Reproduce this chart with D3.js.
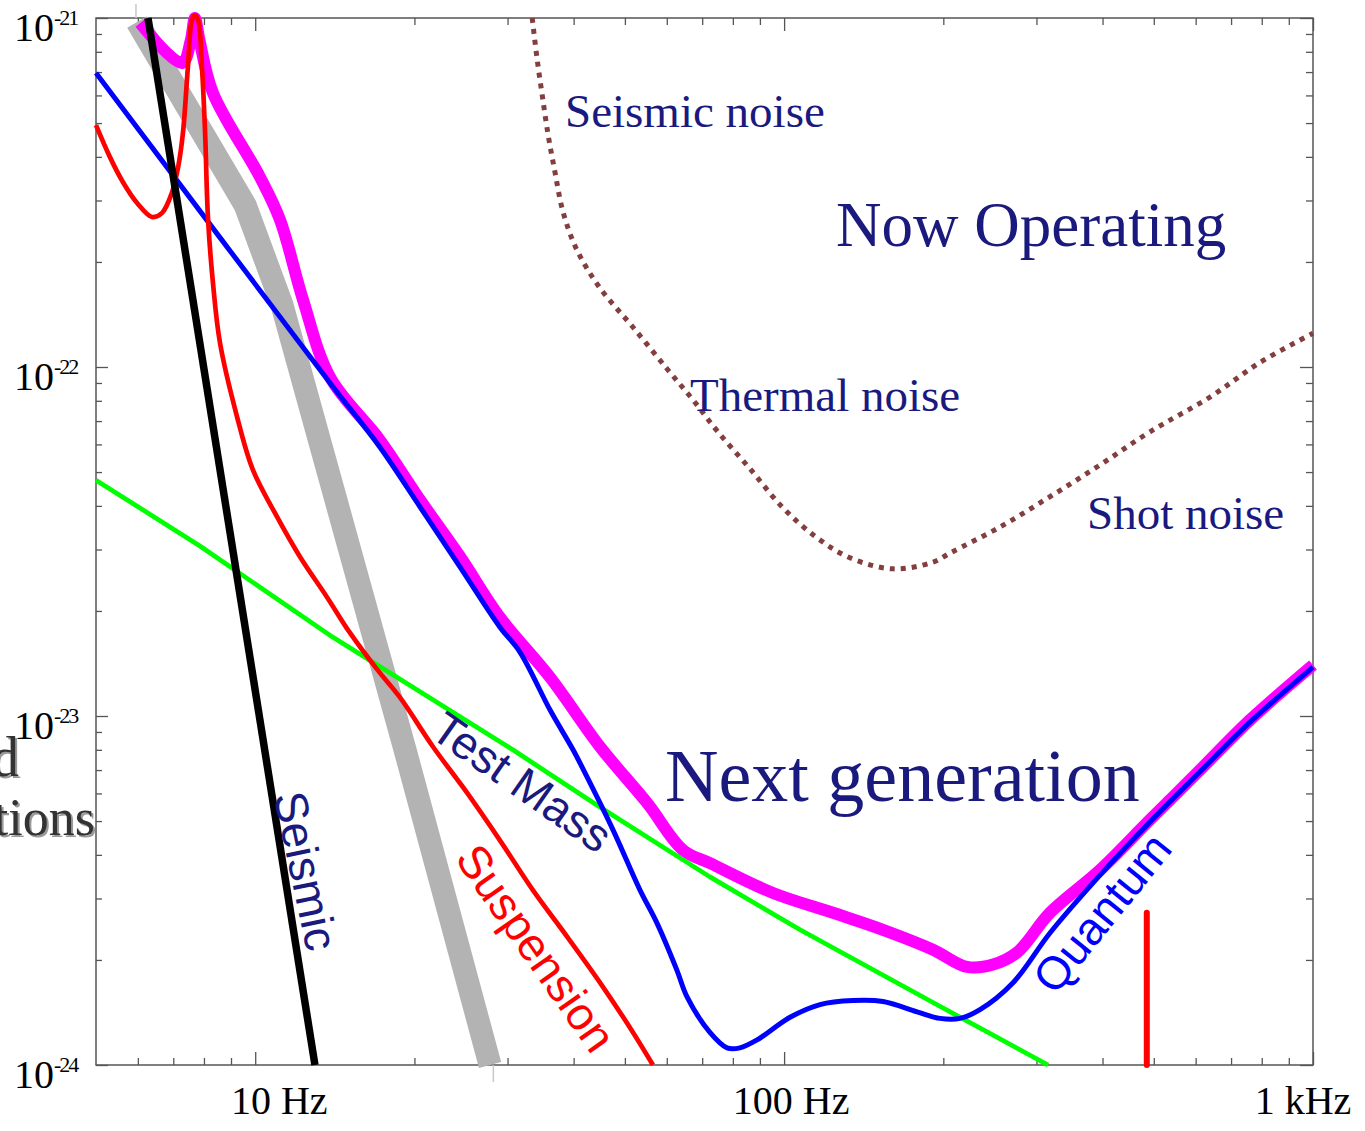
<!DOCTYPE html>
<html lang="en">
<head>
<meta charset="UTF-8">
<title>Interferometer noise curves</title>
<style>
  body { margin: 0; background: #fff; }
  svg { display: block; }
</style>
</head>
<body>
<svg id="chart" width="1365" height="1131"></svg>
<script src="https://d3js.org/d3.v7.min.js"></script>
<script>

// ---- data : [frequency (Hz), strain (1/sqrt(Hz))] ----
var seismicNoise = [[6.27, 1.0e-21], [12.97, 1.0e-24]];

var seismicBand = [[5.98, 9.74e-22], [9.57, 2.91e-22], [11.23, 1.51e-22],
                   [19.2, 8.0e-24], [27.8, 1.0e-24]];
var seismicBandTicks = [5.95, 28.2];

var totalNoise = [[6.06, 9.67e-22], [7.27, 7.43e-22], [7.55, 8.6e-22], [7.69, 1.0e-21],
  [7.85, 8.6e-22], [8.32, 6.1e-22], [10.21, 3.5e-22], [11.14, 2.64e-22], [12.31, 1.56e-22],
  [13.85, 9.35e-23], [17.2, 6.18e-23], [20.5, 4.16e-23], [24.4, 2.86e-23], [29.0, 1.92e-23],
  [36.1, 1.29e-23], [44.9, 8.15e-24], [55.1, 5.63e-24], [64.4, 4.13e-24], [72.4, 3.79e-24],
  [95.3, 3.11e-24], [123.7, 2.73e-24], [153.8, 2.44e-24], [191.2, 2.14e-24], [221.7, 1.91e-24],
  [248.3, 1.94e-24], [275.6, 2.10e-24], [318.2, 2.73e-24], [395.7, 3.62e-24], [491.7, 5.04e-24],
  [611.3, 7.0e-24], [760, 9.74e-24], [1000, 1.40e-23]];

var quantumNoise = [[5.0, 6.96e-22], [13.85, 9.0e-23], [17.2, 5.9e-23], [20.5, 3.97e-23],
  [24.4, 2.67e-23], [29.0, 1.80e-23], [31.7, 1.52e-23], [36.1, 1.04e-23], [39.9, 8.0e-24],
  [42.4, 6.69e-24], [47.5, 4.71e-24], [53.4, 3.17e-24], [57.5, 2.55e-24], [62.7, 1.87e-24],
  [65.5, 1.57e-24], [72.4, 1.24e-24], [78.0, 1.12e-24], [82.5, 1.12e-24], [88.9, 1.18e-24],
  [102.6, 1.37e-24], [116.9, 1.49e-24], [135.0, 1.53e-24], [153.8, 1.52e-24], [178.4, 1.42e-24],
  [197.2, 1.36e-24], [215.1, 1.36e-24], [234.6, 1.44e-24], [270.9, 1.72e-24], [318.2, 2.39e-24],
  [395.7, 3.50e-24], [491.7, 4.97e-24], [611.3, 6.92e-24], [760, 9.6e-24], [1000, 1.38e-23]];

var suspensionNoise = [[5.0, 4.93e-22], [5.31, 4.0e-22], [5.62, 3.39e-22], [5.98, 2.95e-22],
  [6.38, 2.69e-22], [6.66, 2.76e-22], [6.96, 3.16e-22], [7.15, 3.74e-22], [7.30, 4.68e-22],
  [7.46, 7.24e-22], [7.59, 9.87e-22], [7.69, 1.02e-21], [7.80, 9.87e-22], [7.93, 7.24e-22],
  [8.04, 4.68e-22], [8.14, 2.69e-22], [8.32, 1.74e-22], [8.58, 1.17e-22], [9.24, 7.2e-23],
  [9.90, 5.07e-23], [11.0, 3.72e-23], [12.15, 2.86e-23], [13.67, 2.19e-23], [15.11, 1.73e-23],
  [17.0, 1.36e-23], [18.78, 1.13e-23], [21.7, 8.15e-24], [25.2, 6.0e-24], [29.0, 4.41e-24],
  [33.5, 3.17e-24], [38.9, 2.33e-24], [44.9, 1.72e-24], [51.8, 1.24e-24], [56.5, 1.0e-24]];

var violinMode = [[485, 2.73e-24], [485, 1.0e-24]];

var testMassNoise = [[5.0, 4.74e-23], [7.86, 3.07e-23], [14.03, 1.68e-23], [30.7, 8.0e-24],
  [44.9, 5.48e-24], [72.4, 3.46e-24], [107.2, 2.44e-24], [191.2, 1.51e-24], [315.5, 1.0e-24]];

var currentDetector = [[33.4, 1.0e-21], [34.1, 7.68e-22], [34.9, 5.98e-22], [35.8, 4.62e-22],
  [36.9, 3.60e-22], [38.2, 2.78e-22], [40.6, 2.16e-22], [44.9, 1.68e-22], [51.8, 1.30e-22],
  [60.1, 9.87e-23], [67.3, 8.04e-23], [74.7, 6.56e-23], [86.2, 5.11e-23], [99.5, 3.95e-23],
  [115.4, 3.24e-23], [133.2, 2.84e-23], [160.7, 2.64e-23], [191.2, 2.76e-23], [205.9, 2.93e-23],
  [256, 3.48e-23], [318.2, 4.25e-23], [395.7, 5.24e-23], [491.7, 6.52e-23], [638.6, 8.2e-23],
  [793.8, 1.03e-22], [1000, 1.25e-22]];

var xMajor = [10, 100, 1000];
var xMinor = [6, 7, 8, 9, 20, 30, 40, 50, 60, 70, 80, 90, 200, 300, 400, 500, 600, 700, 800, 900];
var xLabels = ["10 Hz", "100 Hz", "1 kHz"];
var xLabelShift = [24, 7, -10];
var yMajor = [1e-24, 1e-23, 1e-22, 1e-21];
var yExponents = ["-24", "-23", "-22", "-21"];
var yMinor = [];
[1e-24, 1e-23, 1e-22].forEach(function (d) {
	for (var k = 2; k <= 9; k++) yMinor.push(k * d);
});

// ---- setup ----
var serif = "'Liberation Serif', 'Times New Roman', serif";
var sans = "'Liberation Sans', Arial, sans-serif";
var navy = "#1a1a7e";
var axisColor = "#555";

var svg = d3.select("#chart");
var plotL = 96, plotR = 1313, plotT = 18, plotB = 1065;

var x = d3.scaleLog().domain([5, 1000]).range([plotL, plotR]);
var y = d3.scaleLog().domain([1e-24, 1e-21]).range([plotB, plotT]);

svg.append("rect").attr("width", 1365).attr("height", 1131).attr("fill", "#fff");

// cut-off label at far left
function shadowText(txt, tx, ty, size) {
	svg.append("text").attr("x", tx + 2).attr("y", ty + 2).attr("text-anchor", "end")
		.attr("font-family", serif).attr("font-size", size).attr("fill", "#9a9a9a").text(txt);
	svg.append("text").attr("x", tx).attr("y", ty).attr("text-anchor", "end")
		.attr("font-family", serif).attr("font-size", size).attr("fill", "#333").text(txt);
}
shadowText("d", 19, 776, 56);
shadowText("tions", 95, 835, 52);

// ---- axes ----
function styleAxis(g) {
	g.select(".domain").remove();
	g.selectAll("line").attr("stroke", axisColor).attr("stroke-width", 1.3);
}
svg.append("g").attr("transform", "translate(0," + plotB + ")")
	.call(d3.axisBottom(x).tickValues(xMinor).tickSize(-7).tickFormat("")).call(styleAxis);
svg.append("g").attr("transform", "translate(0," + plotB + ")")
	.call(d3.axisBottom(x).tickValues(xMajor).tickSize(-13).tickFormat("")).call(styleAxis);
svg.append("g").attr("transform", "translate(0," + plotT + ")")
	.call(d3.axisTop(x).tickValues(xMinor).tickSize(-7).tickFormat("")).call(styleAxis);
svg.append("g").attr("transform", "translate(0," + plotT + ")")
	.call(d3.axisTop(x).tickValues(xMajor).tickSize(-13).tickFormat("")).call(styleAxis);
svg.append("g").attr("transform", "translate(" + plotL + ",0)")
	.call(d3.axisLeft(y).tickValues(yMinor).tickSize(-6).tickFormat("")).call(styleAxis);
svg.append("g").attr("transform", "translate(" + plotL + ",0)")
	.call(d3.axisLeft(y).tickValues(yMajor).tickSize(-12).tickFormat("")).call(styleAxis);
svg.append("g").attr("transform", "translate(" + plotR + ",0)")
	.call(d3.axisRight(y).tickValues(yMinor).tickSize(-7).tickFormat("")).call(styleAxis);
svg.append("g").attr("transform", "translate(" + plotR + ",0)")
	.call(d3.axisRight(y).tickValues(yMajor).tickSize(-13).tickFormat("")).call(styleAxis);

svg.append("rect").attr("x", plotL).attr("y", plotT)
	.attr("width", plotR - plotL).attr("height", plotB - plotT)
	.attr("fill", "none").attr("stroke", axisColor).attr("stroke-width", 1.5);

// tick labels
xMajor.forEach(function (v, i) {
	svg.append("text").attr("x", x(v) + xLabelShift[i]).attr("y", 1114)
		.attr("text-anchor", "middle").attr("font-family", serif).attr("font-size", 40)
		.attr("fill", "#000").text(xLabels[i]);
});
yMajor.forEach(function (v, i) {
	var t = svg.append("text").attr("x", 14).attr("y", y(v) + 23)
		.attr("font-family", serif).attr("font-size", 40).attr("fill", "#000");
	t.append("tspan").text("10");
	t.append("tspan").attr("dy", -16).attr("font-size", 22).attr("letter-spacing", -2)
		.text(yExponents[i]);
});

// ---- curves ----
var line = d3.line().x(function (d) { return x(d[0]); }).y(function (d) { return y(d[1]); });
var smooth = d3.line().curve(d3.curveCatmullRom.alpha(0.5))
	.x(function (d) { return x(d[0]); }).y(function (d) { return y(d[1]); });

function curve(data, gen, color, width, extra) {
	var p = svg.append("path").datum(data).attr("d", gen)
		.attr("fill", "none").attr("stroke", color).attr("stroke-width", width)
		.attr("stroke-linejoin", "round");
	if (extra) extra(p);
	return p;
}

curve(seismicBand, line, "#b3b3b3", 23);
seismicBandTicks.forEach(function (f, i) {
	svg.append("line").attr("x1", x(f)).attr("x2", x(f))
		.attr("y1", i === 0 ? 4 : plotB).attr("y2", i === 0 ? plotT : plotB + 17)
		.attr("stroke", "#c8c8c8").attr("stroke-width", 1.5);
});

curve(currentDetector, smooth, "#833f3f", 5, function (p) { p.attr("stroke-dasharray", "5,6"); });
curve(totalNoise, smooth, "#ff00ff", 12);
curve(testMassNoise, line, "#00ff00", 4.7);
curve(quantumNoise, smooth, "#0000ff", 5);
curve(suspensionNoise, smooth, "#ff0000", 4.7);
curve(violinMode, line, "#ff0000", 6, function (p) { p.attr("stroke-linecap", "round"); });
curve(seismicNoise, line, "#000", 7.5);

// ---- annotations ----
var notes = [
	{ t: "Seismic noise", x: 565, y: 127, s: 47 },
	{ t: "Now Operating", x: 836, y: 246, s: 63 },
	{ t: "Thermal noise", x: 690, y: 411, s: 47 },
	{ t: "Shot noise", x: 1087, y: 529, s: 47 },
	{ t: "Next generation", x: 665, y: 801, s: 74 }
];
notes.forEach(function (n) {
	svg.append("text").attr("x", n.x).attr("y", n.y).attr("font-family", serif)
		.attr("font-size", n.s).attr("fill", navy).text(n.t);
});

var tilted = [
	{ t: "Seismic", x: 306, y: 871, a: 78, c: navy },
	{ t: "Test Mass", x: 522, y: 782, a: 35, c: navy },
	{ t: "Suspension", x: 536, y: 948, a: 55, c: "#ff0000" },
	{ t: "Quantum", x: 1102, y: 913, a: -51, c: "#0000ff" }
];
tilted.forEach(function (n) {
	svg.append("text").attr("transform", "translate(" + n.x + "," + n.y + ") rotate(" + n.a + ")")
		.attr("text-anchor", "middle").attr("dominant-baseline", "central")
		.attr("font-family", sans).attr("font-size", 46).attr("fill", n.c).text(n.t);
});

</script>
</body>
</html>
